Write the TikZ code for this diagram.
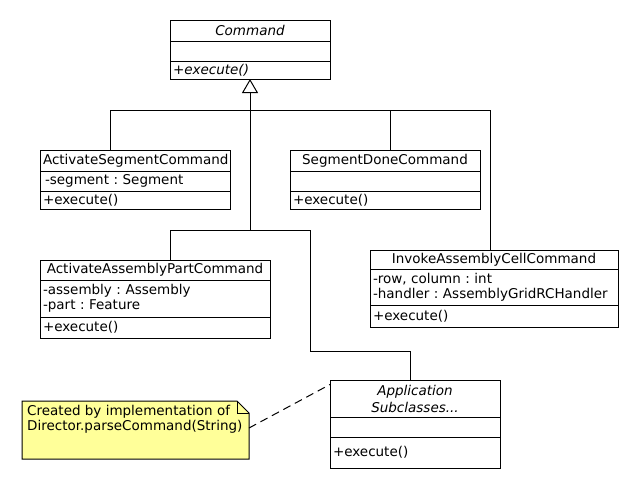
\documentclass[tikz,border=0pt]{standalone}
\usepackage{fontspec}
\setmainfont{DejaVu Sans}
\usetikzlibrary{positioning,calc,arrows.meta}

\definecolor{notefill}{RGB}{255,255,153}

\tikzset{
  umlbox/.style={draw, line width=1pt, inner xsep=3pt, inner ysep=0pt, outer sep=0pt, anchor=north west,
    font=\fontsize{13.5}{15}\selectfont},
  umlhead/.style={umlbox, align=center},
  umlpart/.style={umlbox, align=left},
  inherit/.style={line width=1pt},
  notelink/.style={line width=1pt, dash pattern=on 8pt off 5pt},
}

\begin{document}
\frenchspacing
\begin{tikzpicture}[x=1pt, y=-1pt]
    \useasboundingbox[fill=white] (0,0) rectangle (640,490);

    % Abstract base class
    \node[umlhead, text width=154pt, minimum height=21pt] (cmd) at (170,20) {\itshape Command};
    \node[umlpart, text width=154pt, minimum height=20pt, below=0pt of cmd] (cmd-a) {};
    \node[umlpart, text width=154pt, minimum height=18pt, below=0pt of cmd-a] (cmd-m) {\itshape +execute()};

    % ActivateSegmentCommand
    \node[umlhead, text width=184pt, minimum height=21pt] (asc) at (40,150) {ActivateSegmentCommand};
    \node[umlpart, text width=184pt, minimum height=20pt, below=0pt of asc] (asc-a) {\hspace{2pt}-segment : Segment};
    \node[umlpart, text width=184pt, minimum height=18pt, below=0pt of asc-a] (asc-m) {+execute()};

    % SegmentDoneCommand
    \node[umlhead, text width=184pt, minimum height=21pt] (sdc) at (290,150) {SegmentDoneCommand};
    \node[umlpart, text width=184pt, minimum height=20pt, below=0pt of sdc] (sdc-a) {};
    \node[umlpart, text width=184pt, minimum height=18pt, below=0pt of sdc-a] (sdc-m) {+execute()};

    % ActivateAssemblyPartCommand
    \node[umlhead, text width=224pt, minimum height=20pt] (aapc) at (40,260) {ActivateAssemblyPartCommand};
    \node[umlpart, text width=224pt, minimum height=37pt, below=0pt of aapc] (aapc-a) {-assembly : Assembly\\-part : Feature};
    \node[umlpart, text width=224pt, minimum height=21pt, below=0pt of aapc-a] (aapc-m) {+execute()};

    % InvokeAssemblyCellCommand
    \node[umlhead, text width=242pt, minimum height=19pt] (iacc) at (370,250) {InvokeAssemblyCellCommand};
    \node[umlpart, text width=242pt, minimum height=36pt, below=0pt of iacc] (iacc-a) {-row, column : int\\-handler : AssemblyGridRCHandler};
    \node[umlpart, text width=242pt, minimum height=22pt, below=0pt of iacc-a] (iacc-m) {+execute()};

    % Application subclasses
    \node[umlhead, text width=164pt, minimum height=37pt] (app) at (330,380) {\itshape Application\\[2pt]\itshape Subclasses...};
    \node[umlpart, text width=164pt, minimum height=20pt, below=0pt of app] (app-a) {};
    \node[umlpart, text width=164pt, minimum height=31pt, below=0pt of app-a] (app-m) {+execute()};

    % Inheritance tree
    \coordinate (j1) at (250,110);
    \coordinate (j2) at (250,230);
    \coordinate (j3) at (310,351);
    \draw[inherit, -{Triangle[open, width=16pt, length=14pt]}] (j1) -- (cmd-m.south);
    \draw[inherit] (j1) -| ([xshift=70pt]asc.north west);
    \draw[inherit] (j1) -| ([xshift=100pt]sdc.north west);
    \draw[inherit] (j1) -| ([xshift=120pt]iacc.north west);
    \draw[inherit] (j1) -- (j2);
    \draw[inherit] (j2) -| ([xshift=130pt]aapc.north west);
    \draw[inherit] (j2) -| (j3) -| ([xshift=80pt]app.north west);

    % Note
    \draw[line width=1pt, fill=notefill] (22,401) -- (237,401) -- (249,413) -- (249,459) -- (22,459) -- cycle;
    \draw[line width=1pt] (237,401) -- (237,413) -- (249,413);
    \node[anchor=north west, inner sep=0pt, align=left, font=\fontsize{13.5}{15}\selectfont] (note) at (27,405)
        {Created by implementation of\\Director.parseCommand(String)};
    \coordinate (note-r) at (249,428);
    \draw[notelink] (note-r) -- ([yshift=14pt]app.west);
\end{tikzpicture}
\end{document}
